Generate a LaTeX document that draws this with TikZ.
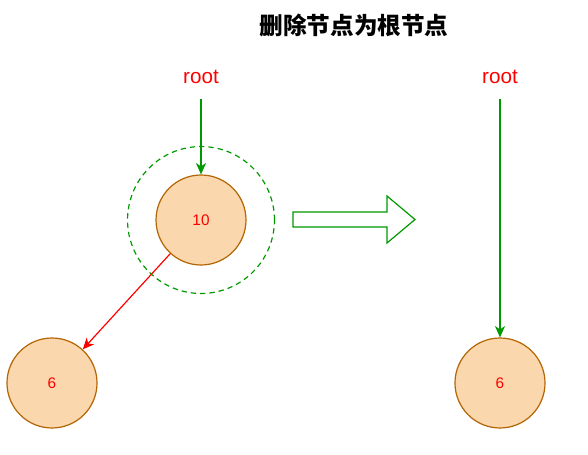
\documentclass[tikz,border=0pt]{standalone}
\usepackage{fontspec}
\setmainfont{Liberation Sans}
\newfontfamily\cjk{Noto Sans CJK SC}
\usetikzlibrary{arrows.meta}
\definecolor{nodefill}{HTML}{FAD7AC}
\definecolor{nodeline}{HTML}{B46504}
\definecolor{grn}{HTML}{009900}
\definecolor{rd}{HTML}{FF0000}
\tikzset{
  px/.style={x=0.75pt,y=-0.75pt},
  tree/.style={circle,draw=nodeline,fill=nodefill,line width=0.9pt,minimum size=67.5pt,inner sep=0pt,text=rd,font=\fontsize{11.5}{13}\selectfont},
  rootlbl/.style={text=rd,font=\fontsize{15.5}{18}\selectfont,inner sep=0pt},
  garrow/.style={draw=grn,line width=0.9pt,-{Stealth[length=8.5pt,width=7.5pt,inset=2.5pt]}},
  rarrow/.style={draw=rd,line width=0.9pt,-{Stealth[length=8.5pt,width=7.5pt,inset=2.5pt]}},
}
\begin{document}
\begin{tikzpicture}[px]
\useasboundingbox (0,0) rectangle (588,454);
\node[font=\cjk\bfseries\fontsize{17.7}{20}\selectfont,inner sep=0pt] (title) at (354,25) {删除节点为根节点};
\node[rootlbl] (rootL) at (201,77) {root};
\node[rootlbl] (rootR) at (500,77) {root};
\node[tree] (n10) at (201,220) {10};
\node[tree] (n6L) at (52,383) {6};
\node[tree] (n6R) at (500,383) {6};
\draw[grn,dashed,line width=0.9pt,dash pattern=on 4pt off 3pt] (n10.center) circle[radius=55.1pt];
\draw[garrow] ([yshift=-11pt]rootL.south) -- (n10);
\draw[garrow] ([yshift=-11pt]rootR.south) -- (n6R);
\draw[rarrow] (n10) -- (n6L);
\draw[grn,line width=0.9pt,fill=white] (293,212) -- (387,212) -- (387,196) -- (415,219.5) -- (387,243) -- (387,227) -- (293,227) -- cycle;
\end{tikzpicture}
\end{document}
